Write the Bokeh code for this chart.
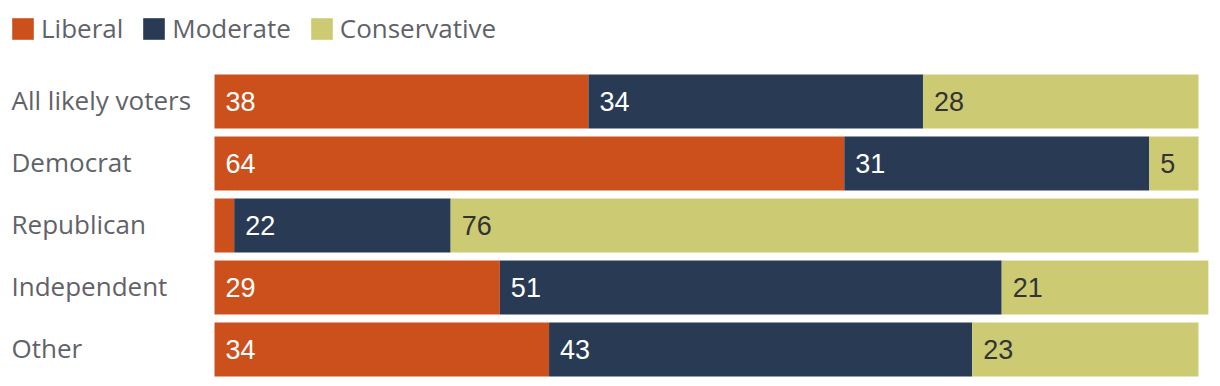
from bokeh.plotting import figure
from bokeh.models import ColumnDataSource, Range1d, Legend, LegendItem
from bokeh.core.properties import value
from bokeh.embed import file_html
from bokeh.resources import INLINE

categories = ["All likely voters", "Democrat", "Republican", "Independent", "Other"]
series_names = ["Liberal", "Moderate", "Conservative"]
liberal = [38, 64, 2, 29, 34]
moderate = [34, 31, 22, 51, 43]
conservative = [28, 5, 76, 21, 23]
colors = ["#cc501c", "#293a55", "#cccb74"]
label_colors = ["#ffffff", "#ffffff", "#333333"]

series = [liberal, moderate, conservative]
ypos = list(range(len(categories)))

W, H = 1220, 386
X0, PX = 214, 9.84
Y0, PITCH = 101, 62

p = figure(width=W, height=H, output_backend="svg", toolbar_location=None,
           x_range=Range1d(-X0 / PX, (W - X0) / PX),
           y_range=Range1d(4 + (H - (Y0 + 4 * PITCH)) / PITCH, -Y0 / PITCH),
           min_border_left=0, min_border_right=0, min_border_top=0, min_border_bottom=0)
p.xaxis.visible = False
p.yaxis.visible = False
p.xgrid.visible = False
p.ygrid.visible = False
p.outline_line_color = None
p.background_fill_color = "white"
p.border_fill_color = "white"

left = [0] * len(categories)
renderers = []
for name, vals, col, lcol in zip(series_names, series, colors, label_colors):
    right = [a + b for a, b in zip(left, vals)]
    src = ColumnDataSource(dict(y=ypos, left=left, right=right, v=vals))
    r = p.hbar(y="y", left="left", right="right", height=54 / 62, source=src,
               fill_color=col, line_color=None)
    renderers.append(r)
    lab = [(l, y, str(v)) for l, y, v in zip(left, ypos, vals) if v >= 3]
    lsrc = ColumnDataSource(dict(x=[a[0] for a in lab], y=[a[1] for a in lab],
                                 t=[a[2] for a in lab]))
    p.text(x="x", y="y", text="t", source=lsrc, x_offset=11, y_offset=0,
           text_align="left", text_baseline="middle",
           text_font=value("Liberation Sans"), text_font_size="27px",
           text_color=lcol)
    left = right

# category labels
csrc = ColumnDataSource(dict(x=[0] * len(categories), y=ypos, t=categories))
p.text(x="x", y="y", text="t", source=csrc, x_offset=-203, y_offset=-2,
       text_align="left", text_baseline="middle",
       text_font=value("Open Sans"), text_font_size="26px", text_color="#5f6369")

legend = Legend(items=[LegendItem(label=n, renderers=[r]) for n, r in zip(series_names, renderers)],
                orientation="horizontal", location=(9, 340),
                glyph_width=27, glyph_height=27, label_standoff=5, spacing=17,
                padding=0, margin=0, border_line_alpha=0, background_fill_alpha=0,
                label_text_font="Open Sans", label_text_font_size="26px",
                label_text_color="#5f6369")
p.add_layout(legend, "center")

open("out.html", "w").write(file_html(p, INLINE))
